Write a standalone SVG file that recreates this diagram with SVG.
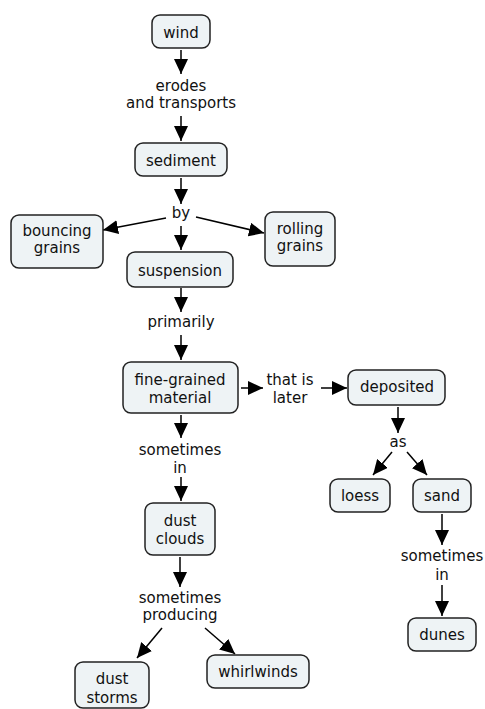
<svg xmlns="http://www.w3.org/2000/svg" width="485" height="709" viewBox="0 0 485 709">
<defs>
<marker id="ah" markerUnits="userSpaceOnUse" markerWidth="15" markerHeight="14" refX="15" refY="7" orient="auto">
<path d="M0,0 L15,7 L0,14 z" fill="#000"/>
</marker>
<style>
.box{fill:#eef3f5;stroke:#222;stroke-width:1.5}
text{font-family:"DejaVu Sans",Verdana,sans-serif;font-size:15px;fill:#111;text-anchor:middle}
.c line{stroke:#000;stroke-width:1.5;marker-end:url(#ah)}
</style>
</defs>
<rect width="485" height="709" fill="#fff"/>
<g class="c" id="connectors">
<line x1="181" y1="50" x2="181" y2="74"/>
<line x1="181" y1="116" x2="181" y2="141"/>
<line x1="181" y1="178" x2="181" y2="204"/>
<line x1="166" y1="218" x2="103" y2="230"/>
<line x1="196" y1="217" x2="264" y2="233"/>
<line x1="181" y1="226" x2="181" y2="250"/>
<line x1="181" y1="288" x2="181" y2="312"/>
<line x1="181" y1="335" x2="181" y2="360"/>
<line x1="241" y1="388" x2="263" y2="388"/>
<line x1="321" y1="388" x2="347" y2="388"/>
<line x1="398" y1="407" x2="398" y2="433"/>
<line x1="392" y1="452" x2="373" y2="475"/>
<line x1="407" y1="452" x2="427" y2="475"/>
<line x1="181" y1="415" x2="181" y2="438"/>
<line x1="181" y1="477" x2="181" y2="501"/>
<line x1="180" y1="557" x2="180" y2="587"/>
<line x1="162" y1="628" x2="137" y2="658"/>
<line x1="205" y1="628" x2="235" y2="654"/>
<line x1="442" y1="514" x2="442" y2="545"/>
<line x1="442" y1="585" x2="442" y2="616"/>
</g>
<g id="wind"><rect class="box" x="152" y="15" width="58" height="33" rx="8"/><text x="181" y="38">wind</text></g>
<g id="erodes"><text x="181" y="91">erodes</text><text x="181" y="108">and transports</text></g>
<g id="sediment"><rect class="box" x="135" y="143" width="92" height="33" rx="8"/><text x="181" y="166">sediment</text></g>
<g id="by"><text x="181" y="218">by</text></g>
<g id="bouncing"><rect class="box" x="11" y="215" width="92" height="53" rx="8"/><text x="57" y="236">bouncing</text><text x="57" y="253">grains</text></g>
<g id="rolling"><rect class="box" x="265" y="212" width="70" height="54" rx="8"/><text x="300" y="234">rolling</text><text x="300" y="251">grains</text></g>
<g id="suspension"><rect class="box" x="127" y="252" width="106" height="35" rx="8"/><text x="180" y="276">suspension</text></g>
<g id="primarily"><text x="181" y="327">primarily</text></g>
<g id="fine"><rect class="box" x="123" y="362" width="115" height="51" rx="8"/><text x="180" y="385">fine-grained</text><text x="180" y="403">material</text></g>
<g id="thatis"><text x="290" y="385">that is</text><text x="290" y="403">later</text></g>
<g id="deposited"><rect class="box" x="348" y="370" width="97" height="35" rx="8"/><text x="397" y="392">deposited</text></g>
<g id="as"><text x="398" y="447">as</text></g>
<g id="loess"><rect class="box" x="330" y="479" width="60" height="33" rx="8"/><text x="360" y="501">loess</text></g>
<g id="sand"><rect class="box" x="413" y="479" width="58" height="33" rx="8"/><text x="442" y="501">sand</text></g>
<g id="sometimes1"><text x="180" y="455">sometimes</text><text x="180" y="473">in</text></g>
<g id="dustclouds"><rect class="box" x="145" y="503" width="70" height="52" rx="8"/><text x="180" y="526">dust</text><text x="180" y="544">clouds</text></g>
<g id="producing"><text x="180" y="603">sometimes</text><text x="180" y="620">producing</text></g>
<g id="duststorms"><rect class="box" x="75" y="662" width="74" height="46" rx="8"/><text x="112" y="684">dust</text><text x="112" y="703">storms</text></g>
<g id="whirlwinds"><rect class="box" x="207" y="655" width="102" height="33" rx="8"/><text x="258" y="677">whirlwinds</text></g>
<g id="sometimes2"><text x="442" y="561">sometimes</text><text x="442" y="580">in</text></g>
<g id="dunes"><rect class="box" x="408" y="618" width="68" height="33" rx="8"/><text x="442" y="640">dunes</text></g>
</svg>
